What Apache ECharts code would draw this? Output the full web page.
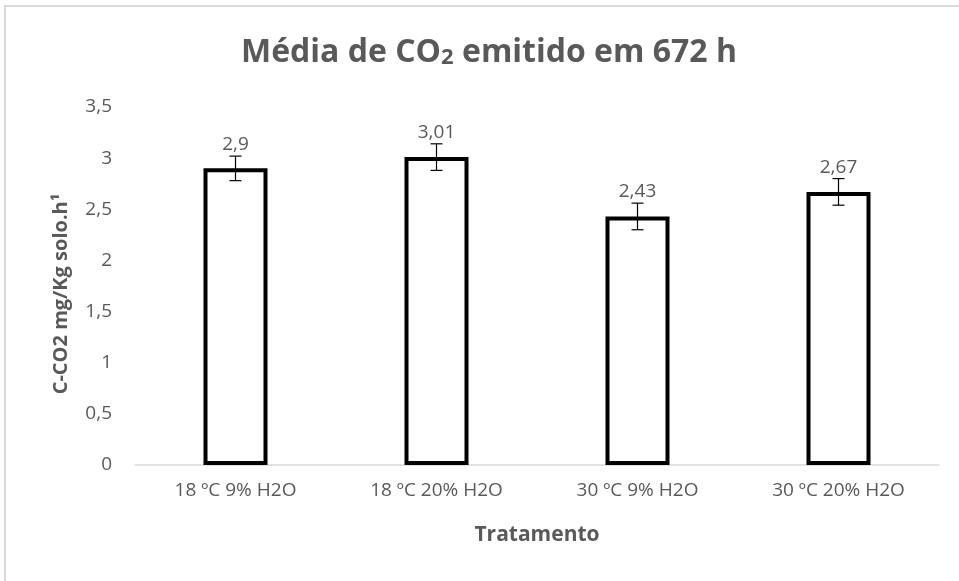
<!DOCTYPE html>
<html>
<head>
<meta charset="utf-8">
<script src="https://cdn.jsdelivr.net/npm/echarts@6/dist/echarts.min.js"></script>
<style>
html,body{margin:0;padding:0;background:#fff;}
#frame{position:absolute;left:4px;top:5px;width:955px;height:576px;border-left:2px solid #d9d9d9;border-top:2px solid #d9d9d9;box-sizing:border-box;}
#chart{position:absolute;left:0;top:0;width:959px;height:581px;}
</style>
</head>
<body>
<div id="frame"></div>
<div id="chart"></div>
<script>
const categories = ['18 ºC 9% H2O', '18 ºC 20% H2O', '30 ºC 9% H2O', '30 ºC 20% H2O'];
const values = [2.9, 3.01, 2.43, 2.67];
const errors = [0.12, 0.13, 0.13, 0.13];
const yTicks = [0, 0.5, 1, 1.5, 2, 2.5, 3, 3.5];

const FONT = '"Open Sans", sans-serif';
const fmt = v => String(v).replace('.', ',');

const chart = echarts.init(document.getElementById('chart'), null, {renderer: 'canvas'});
chart.setOption({
  backgroundColor: 'transparent',
  animation: false,
  title: {
    text: '{a|Média de CO}{b|2}{a| emitido em 672 h}',
    left: 484,
    textAlign: 'center',
    top: 32,
    textStyle: {
      rich: {
        a: {fontFamily: FONT, fontSize: 32, fontWeight: 'bold', color: '#595959'},
        b: {fontFamily: FONT, fontSize: 22, fontWeight: 'bold', color: '#595959', verticalAlign: 'bottom', padding: [9, 0, 0, 0]}
      }
    }
  },
  grid: {left: 135, right: 20, top: 107, bottom: 116, containLabel: false},
  xAxis: {
    type: 'category',
    data: categories,
    name: 'Tratamento',
    nameLocation: 'middle',
    nameGap: 60,
    nameTextStyle: {fontFamily: FONT, fontSize: 21, fontWeight: 'bold', color: '#595959'},
    axisLine: {lineStyle: {color: '#d9d9d9', width: 1.5}},
    axisTick: {show: false},
    axisLabel: {fontFamily: FONT, fontSize: 19, color: '#595959', margin: 16}
  },
  yAxis: {
    type: 'value',
    min: 0, max: 3.5, interval: 0.5,
    name: 'C-CO2 mg/Kg solo.h¹',
    nameLocation: 'middle',
    nameGap: 64,
    nameTextStyle: {fontFamily: FONT, fontSize: 20, fontWeight: 'bold', color: '#595959', padding: [0, 16, 0, 0]},
    axisLine: {show: false},
    axisTick: {show: false},
    splitLine: {show: false},
    axisLabel: {fontFamily: FONT, fontSize: 19, color: '#595959', margin: 23,
      formatter: v => yTicks.includes(v) ? fmt(v) : ''}
  },
  series: [
    {
      type: 'bar',
      data: values,
      barWidth: 64,
      itemStyle: {color: '#ffffff', borderColor: '#000000', borderWidth: 4},
      z: 2
    },
    {
      type: 'custom',
      data: values.map((v, i) => [i, v, errors[i]]),
      z: 3,
      renderItem: function (params, api) {
        const x = api.value(0), v = api.value(1), e = api.value(2);
        const top = api.coord([x, v + e]);
        const bot = api.coord([x, v - e]);
        const cw = 6;
        const style = {stroke: '#000', lineWidth: 1.2};
        return {
          type: 'group',
          children: [
            {type: 'line', shape: {x1: top[0], y1: top[1], x2: bot[0], y2: bot[1]}, style},
            {type: 'line', shape: {x1: top[0] - cw, y1: top[1], x2: top[0] + cw, y2: top[1]}, style},
            {type: 'line', shape: {x1: bot[0] - cw, y1: bot[1], x2: bot[0] + cw, y2: bot[1]}, style},
            {type: 'text', x: top[0], y: top[1] - 2,
              style: {text: fmt(v), fontFamily: FONT, fontSize: 19, fill: '#595959', textAlign: 'center', textVerticalAlign: 'bottom'}}
          ]
        };
      }
    }
  ]
});
</script>
</body>
</html>
